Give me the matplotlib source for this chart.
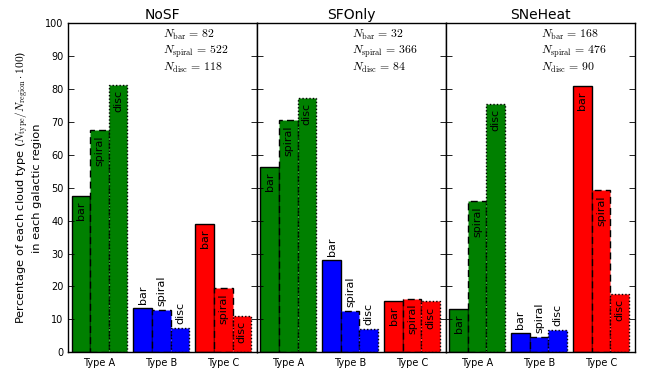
import matplotlib
matplotlib.use("Agg")
import matplotlib.pyplot as plt
import numpy as np

plt.rcParams['mathtext.fontset'] = 'cm'
plt.rcParams['font.family'] = ['DejaVu Sans']

panels = ["NoSF", "SFOnly", "SNeHeat"]
cloud_types = ["Type A", "Type B", "Type C"]
regions = ["bar", "spiral", "disc"]

# percentages [type][region]
nosf = [[47.5, 67.5, 81.3], [13.4, 12.8, 7.5], [39.0, 19.4, 11.0]]
sfonly = [[56.2, 70.6, 77.4], [28.1, 12.6, 7.1], [15.6, 16.3, 15.5]]
sneheat = [[13.1, 46.0, 75.6], [6.0, 4.6, 6.7], [81.0, 49.4, 17.8]]

n_bar = [82, 32, 168]
n_spiral = [522, 366, 476]
n_disc = [118, 84, 90]

type_colors = ["#008000", "#0000ff", "#ff0000"]
region_styles = ["-", (0, (5, 3)), (0, (1, 1.5))]
label_above = [False, True, False]

data = [nosf, sfonly, sneheat]

fig = plt.figure(figsize=(6.54, 3.92), dpi=100)
left, right, bottom, top = 0.1047, 0.971, 0.1013, 0.9406
w = (right - left) / 3
axes = []
for p in range(3):
    ax = fig.add_axes([left + p * w, bottom, w, top - bottom])
    axes.append(ax)
    vals = data[p]
    bw = 0.3
    for i in range(3):
        for j in range(3):
            x = i + j * bw
            h = vals[i][j]
            ax.bar(x, h, width=bw, align='edge', color=type_colors[i],
                   edgecolor='black', linewidth=1.0, linestyle=region_styles[j])
            xc = x + bw / 2
            if label_above[i]:
                ax.text(xc, h + 1.2, regions[j], rotation=90, ha='center',
                        va='bottom', fontsize=8)
            else:
                ax.text(xc, h - 1.6, regions[j], rotation=90, ha='center',
                        va='top', fontsize=8)
    ax.set_xlim(-0.05, 3.0)
    ax.set_ylim(0, 100)
    ax.set_xticks([i + 0.45 for i in range(3)])
    ax.set_xticklabels(cloud_types, fontsize=7)
    ax.tick_params(axis='x', length=0, pad=4)
    ax.set_yticks(np.arange(0, 101, 10))
    ax.tick_params(axis='y', direction='in', left=True, right=True,
                   length=4, labelsize=7, width=0.6)
    if p > 0:
        ax.set_yticklabels([])
    ax.set_title(panels[p], fontsize=10, pad=3)
    ys = [96.4, 91.3, 86.4]
    texts = [r"$N_{\rm bar}\,=\,%d$" % n_bar[p],
             r"$N_{\rm spiral}\,=\,%d$" % n_spiral[p],
             r"$N_{\rm disc}\,=\,%d$" % n_disc[p]]
    for y, t in zip(ys, texts):
        ax.text(0.5, y, t, transform=ax.get_yaxis_transform(), ha='left',
                va='center', fontsize=8.5)
    for s in ax.spines.values():
        s.set_linewidth(1.0)

axes[0].set_ylabel("Percentage of each cloud type ($N_{\\rm type}/N_{\\rm region}\\cdot100$)\nin each galactic region",
                   fontsize=8.2, labelpad=2)

fig.savefig("out.png", dpi=100)
